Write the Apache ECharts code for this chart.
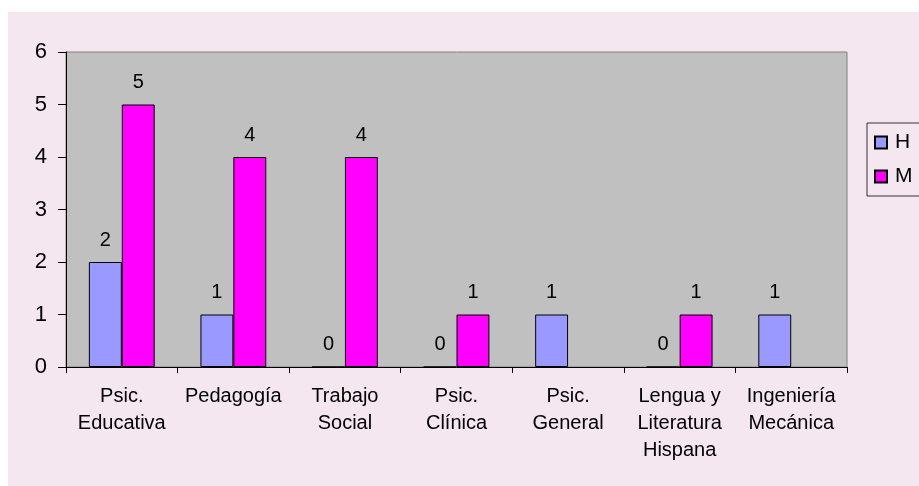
<!DOCTYPE html>
<html>
<head>
<meta charset="utf-8">
<script src="https://cdn.jsdelivr.net/npm/echarts@6/dist/echarts.min.js"></script>
<style>
html,body{margin:0;padding:0;background:#ffffff;}
#chart{width:919px;height:486px;}
</style>
</head>
<body>
<div id="chart"></div>
<script>
const categories = ["Psic.\nEducativa", "Pedagogía", "Trabajo\nSocial", "Psic.\nClínica", "Psic.\nGeneral", "Lengua y\nLiteratura\nHispana", "Ingeniería\nMecánica"];
const seriesNames = ["H", "M"];
const valuesH = [2, 1, 0, 0, 1, 0, 1];
const valuesM = [5, 4, 4, 1, null, 1, null];
const yTicks = { min: 0, max: 6, interval: 1 };

const FONT = '"Liberation Sans", Arial, sans-serif';
const chart = echarts.init(document.getElementById('chart'), null, { renderer: 'canvas' });

const labelCfg = {
  show: true,
  position: 'top',
  distance: 12,
  color: '#000',
  fontSize: 20,
  fontFamily: FONT
};

chart.setOption({
  backgroundColor: '#ffffff',
  animation: false,
  graphic: [{
    type: 'rect',
    z: -10,
    silent: true,
    shape: { x: 8, y: 12, width: 911, height: 474 },
    style: { fill: '#F4E7EF' }
  }],
  textStyle: { fontFamily: FONT },
  grid: {
    left: 66, right: 72, top: 52, bottom: 119,
    show: true,
    backgroundColor: '#C0C0C0',
    borderColor: '#808080',
    borderWidth: 1
  },
  legend: {
    orient: 'vertical',
    left: 867,
    top: 123,
    data: seriesNames,
    itemWidth: 12,
    itemHeight: 12,
    itemGap: 13,
    padding: [9, 40, 9, 7],
    borderColor: '#333',
    borderWidth: 1,
    icon: 'rect',
    textStyle: { fontSize: 21, color: '#000', fontFamily: FONT, padding: [0, 0, 0, 3] }
  },
  xAxis: {
    type: 'category',
    data: categories,
    axisLine: { lineStyle: { color: '#000', width: 1 } },
    axisTick: { show: true, alignWithLabel: false, length: 6, lineStyle: { color: '#000' } },
    axisLabel: { interval: 0, color: '#000', fontSize: 20, lineHeight: 27, margin: 16, fontFamily: FONT },
    splitLine: { show: false }
  },
  yAxis: {
    type: 'value',
    min: yTicks.min,
    max: yTicks.max,
    interval: yTicks.interval,
    axisLine: { show: true, lineStyle: { color: '#000', width: 1 } },
    axisTick: { show: true, length: 8, lineStyle: { color: '#000' } },
    axisLabel: { color: '#000', fontSize: 22, margin: 19, fontFamily: FONT },
    splitLine: { show: false }
  },
  series: [
    {
      name: seriesNames[0],
      type: 'bar',
      data: valuesH,
      barGap: '0%',
      barCategoryGap: '41%',
      itemStyle: { color: '#9999FF', borderColor: '#000', borderWidth: 1 },
      label: labelCfg
    },
    {
      name: seriesNames[1],
      type: 'bar',
      data: valuesM,
      barGap: '0%',
      barCategoryGap: '41%',
      itemStyle: { color: '#FF00FF', borderColor: '#000', borderWidth: 1 },
      label: labelCfg
    }
  ]
});
</script>
</body>
</html>
